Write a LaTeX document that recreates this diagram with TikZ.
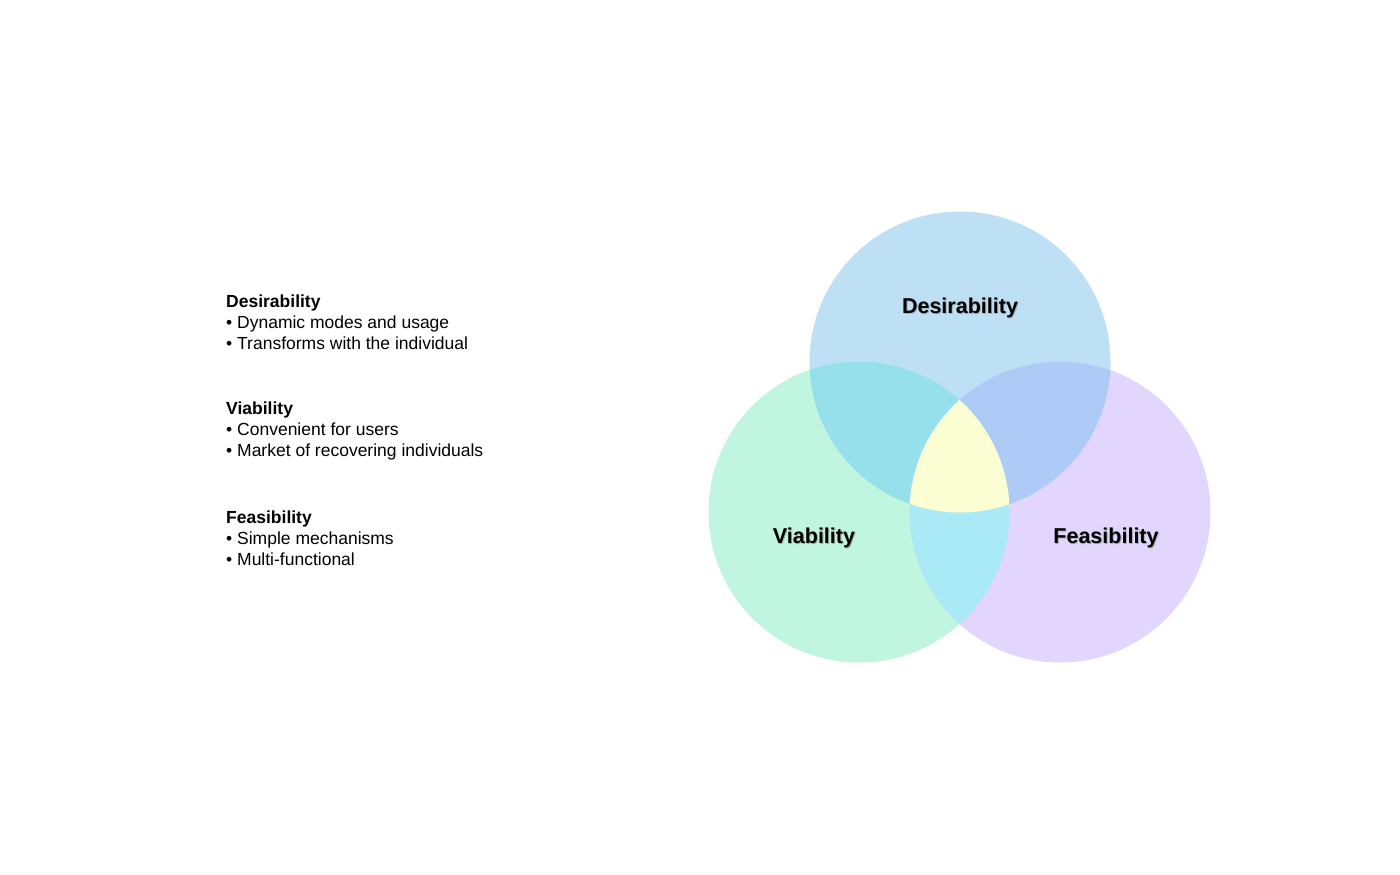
\documentclass[tikz,border=0pt]{standalone}
\usepackage{fontspec}
\setmainfont{Liberation Sans}
\definecolor{cTop}{HTML}{BEE0F4}
\definecolor{cLeft}{HTML}{C0F6DF}
\definecolor{cRight}{HTML}{E2D5FE}
\definecolor{cTL}{HTML}{96E0EC}
\definecolor{cTR}{HTML}{AECAF6}
\definecolor{cLR}{HTML}{A9EAF6}
\definecolor{cMid}{HTML}{FAFED2}
\begin{document}
\begin{tikzpicture}[x=1pt,y=-1pt,
  listtext/.style={anchor=base west,inner sep=0pt,font=\fontsize{17.5}{21}\selectfont},
  listhead/.style={listtext,font=\fontsize{17.5}{21}\selectfont\bfseries},
  venntext/.style={inner sep=0pt,font=\fontsize{21.5}{26}\selectfont\bfseries},
  vennshadow/.style={venntext,text=black!45,opacity=0.6}]
\useasboundingbox (0,0) rectangle (1400,875);
\fill[white] (0,0) rectangle (1400,875);
\coordinate (T) at (960,362);
\coordinate (L) at (859,512);
\coordinate (R) at (1060,512);
\def\rad{150.5}
% base circles
\fill[cTop] (T) circle (\rad);
\fill[cLeft] (L) circle (\rad);
\fill[cRight] (R) circle (\rad);
% pairwise overlaps
\begin{scope}
  \clip (T) circle (\rad);
  \fill[cTL] (L) circle (\rad);
  \fill[cTR] (R) circle (\rad);
\end{scope}
\begin{scope}
  \clip (L) circle (\rad);
  \fill[cLR] (R) circle (\rad);
\end{scope}
\begin{scope}
  \clip (T) circle (\rad);
  \clip (L) circle (\rad);
  \fill[cMid] (R) circle (\rad);
\end{scope}
% venn labels
\node[vennshadow] at (961,309) {Desirability};
\node[venntext] (ld) at (960,308) {Desirability};
\node[vennshadow] at (815,539) {Viability};
\node[venntext] (lv) at (814,538) {Viability};
\node[vennshadow] at (1107,539) {Feasibility};
\node[venntext] (lf) at (1106,538) {Feasibility};
% left list
\node[listhead] (h1) at (226,307) {Desirability};
\node[listtext] (a1) at (226,328) {• Dynamic modes and usage};
\node[listtext] (a2) at (226,349) {• Transforms with the individual};
\node[listhead] (h2) at (226,414) {Viability};
\node[listtext] (b1) at (226,435) {• Convenient for users};
\node[listtext] (b2) at (226,456) {• Market of recovering individuals};
\node[listhead] (h3) at (226,523) {Feasibility};
\node[listtext] (c1) at (226,544) {• Simple mechanisms};
\node[listtext] (c2) at (226,565) {• Multi-functional};
\end{tikzpicture}
\end{document}
